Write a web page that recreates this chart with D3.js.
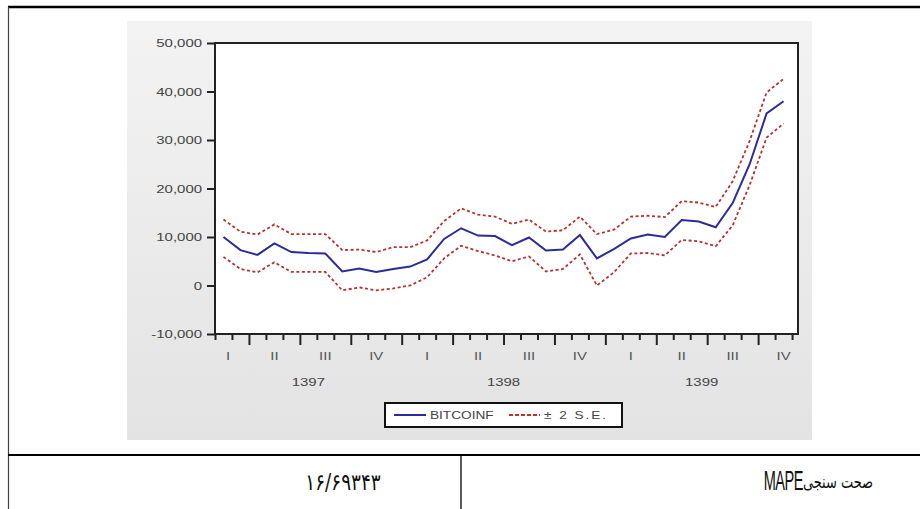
<!DOCTYPE html>
<html>
<head>
<meta charset="utf-8">
<script src="https://cdn.jsdelivr.net/npm/d3@7"></script>
<style>
body { margin: 0; background: #fff; }
svg { display: block; }
</style>
</head>
<body>
<svg width="920" height="509"></svg>
<script>
// forecast of BITCOINF, monthly from Ordibehesht 1397 to Dey 1399
var forecast = [10000, 7300, 6300, 8700, 6900, 6700, 6600, 2900, 3500, 2800, 3400, 3900,
    5400, 9600, 11800, 10300, 10200, 8300, 9900, 7200, 7400, 10400, 5600, 7500,
    9700, 10500, 10000, 13500, 13200, 12000, 17000, 25000, 35500, 38000];
var upper = [13600, 11100, 10500, 12600, 10600, 10600, 10600, 7300, 7400, 6900, 7900, 7900,
    9300, 13300, 15900, 14600, 14200, 12700, 13600, 11100, 11400, 14200, 10600, 11500,
    14200, 14400, 14100, 17400, 17100, 16200, 21500, 29800, 39800, 42600];
var lower = [5900, 3400, 2700, 4800, 2800, 2800, 2800, -1000, -400, -1000, -600, 0,
    1700, 5600, 8200, 7100, 6200, 5000, 6000, 2900, 3400, 6400, 0, 2700,
    6600, 6700, 6200, 9400, 9100, 8100, 12400, 20700, 30500, 33400];
var quarterLabels = ["I", "II", "III", "IV"];
var years = ["1397", "1398", "1399"];
var yTicks = [-10000, 0, 10000, 20000, 30000, 40000, 50000];
var firstMonth = 1; // month index of first observation (0 = Farvardin 1397)

var svg = d3.select("svg");

// page table lines
svg.append("line").attr("x1", 8).attr("x2", 920).attr("y1", 7).attr("y2", 7)
    .attr("stroke", "#000").attr("stroke-width", 2.5);
svg.append("line").attr("x1", 8.5).attr("x2", 8.5).attr("y1", 7).attr("y2", 509)
    .attr("stroke", "#444").attr("stroke-width", 1.2);
svg.append("line").attr("x1", 8).attr("x2", 920).attr("y1", 455).attr("y2", 455)
    .attr("stroke", "#000").attr("stroke-width", 2);
svg.append("line").attr("x1", 461).attr("x2", 461).attr("y1", 455).attr("y2", 509)
    .attr("stroke", "#000").attr("stroke-width", 1.3);

// gray panel
var grad = svg.append("defs").append("linearGradient")
    .attr("id", "panel").attr("x1", 0).attr("x2", 0).attr("y1", 0).attr("y2", 1);
grad.append("stop").attr("offset", "0%").attr("stop-color", "#f3f3f3");
grad.append("stop").attr("offset", "100%").attr("stop-color", "#e3e3e3");
svg.append("rect").attr("x", 127).attr("y", 21).attr("width", 685).attr("height", 419)
    .attr("fill", "url(#panel)");

var x = d3.scaleLinear().domain([1, 35.35]).range([215, 798]),
    y = d3.scaleLinear().domain([-10000, 50000]).range([334, 43]);

var g = svg.append("g");

g.append("rect").attr("x", 215).attr("y", 43).attr("width", 583).attr("height", 291)
    .attr("fill", "#fff");

var line = d3.line()
    .x(function(d, i) { return x(firstMonth + i + 0.5); })
    .y(function(d) { return y(d); });

g.append("path").datum(upper)
    .attr("fill", "none").attr("stroke", "#b8312f").attr("stroke-width", 1.8)
    .attr("stroke-dasharray", "3,2.5").attr("d", line);
g.append("path").datum(lower)
    .attr("fill", "none").attr("stroke", "#b8312f").attr("stroke-width", 1.8)
    .attr("stroke-dasharray", "3,2.5").attr("d", line);
g.append("path").datum(forecast)
    .attr("fill", "none").attr("stroke", "#2b2b9c").attr("stroke-width", 2)
    .attr("d", line);

// y axis
var yAxis = g.append("g")
    .attr("transform", "translate(215,0)")
    .call(d3.axisLeft(y).tickValues(yTicks).tickSize(8).tickSizeOuter(0)
        .tickFormat(function(d) { return d3.format(",")(d).replace("\u2212", "-"); }));
yAxis.select(".domain").remove();
yAxis.selectAll("line").attr("stroke", "#222").attr("stroke-width", 2);
yAxis.selectAll("text")
    .attr("x", -10)
    .attr("transform", "scale(1.3,1)")
    .style("font", "11.5px 'Liberation Sans', Arial, sans-serif")
    .attr("fill", "#444");

// x axis, month ticks, longer at quarter ends
var monthTicks = d3.range(1, 36);
var xMinor = g.append("g")
    .attr("transform", "translate(0,334)")
    .call(d3.axisBottom(x).tickValues(monthTicks.filter(function(m) { return m % 3 != 0; }))
        .tickSize(6).tickFormat(""));
var xMajor = g.append("g")
    .attr("transform", "translate(0,334)")
    .call(d3.axisBottom(x).tickValues(monthTicks.filter(function(m) { return m % 3 == 0; }))
        .tickSize(11).tickFormat(""));
xMinor.select(".domain").remove();
xMajor.select(".domain").remove();
g.selectAll(".tick line").attr("stroke", "#222").attr("stroke-width", 2);

var quarters = d3.range(12).map(function(q) {
    return {label: quarterLabels[q % 4], pos: q * 3 + 1.5};
});
g.selectAll(".qlabel")
    .data(quarters)
  .enter().append("text")
    .attr("class", "qlabel")
    .attr("transform", function(d) {
        return "translate(" + Math.max(x(d.pos), 228) + ",360) scale(1.3,1)";
    })
    .attr("text-anchor", "middle")
    .style("font", "11.5px 'Liberation Sans', Arial, sans-serif")
    .attr("fill", "#555")
    .text(function(d) { return d.label; });

var dom = x.domain();
g.selectAll(".ylabel")
    .data(years)
  .enter().append("text")
    .attr("class", "ylabel")
    .attr("transform", function(d, i) {
        var a = Math.max(i * 12, dom[0]), b = Math.min(i * 12 + 12, dom[1]);
        return "translate(" + x((a + b) / 2) + ",386) scale(1.3,1)";
    })
    .attr("text-anchor", "middle")
    .style("font", "11.5px 'Liberation Sans', Arial, sans-serif")
    .attr("fill", "#444")
    .text(function(d) { return d; });

// frame
g.append("rect").attr("x", 215).attr("y", 43).attr("width", 583).attr("height", 291)
    .attr("fill", "none").attr("stroke", "#222").attr("stroke-width", 2);

// legend
var legend = svg.append("g").attr("transform", "translate(385,403)");
legend.append("rect").attr("width", 237).attr("height", 24)
    .attr("fill", "#fff").attr("stroke", "#111").attr("stroke-width", 2);
legend.append("line").attr("x1", 9).attr("x2", 41).attr("y1", 12).attr("y2", 12)
    .attr("stroke", "#2b2b9c").attr("stroke-width", 2);
legend.append("text").attr("transform", "translate(45,16) scale(1.3,1)")
    .style("font", "10.5px 'Liberation Sans', Arial, sans-serif").attr("fill", "#444")
    .text("BITCOINF");
legend.append("line").attr("x1", 124).attr("x2", 155).attr("y1", 12).attr("y2", 12)
    .attr("stroke", "#c0302c").attr("stroke-width", 1.8).attr("stroke-dasharray", "4,2");
legend.append("text").attr("transform", "translate(159,16) scale(1.3,1)")
    .style("font", "10.5px 'Liberation Sans', Arial, sans-serif").attr("fill", "#444")
    .attr("letter-spacing", 1.5)
    .text("\u00b1 2 S.E.");

// table row
svg.append("text").attr("transform", "translate(343,490) scale(0.8,1)")
    .attr("text-anchor", "middle")
    .style("font", "23px 'DejaVu Sans', sans-serif").attr("fill", "#111")
    .text("\u06f1\u06f6/\u06f6\u06f9\u06f3\u06f4\u06f3");

var fa = svg.append("text").attr("transform", "translate(873,488) scale(0.72,1)")
    .attr("text-anchor", "end")
    .style("font", "18px 'DejaVu Sans', sans-serif").attr("fill", "#111")
    .text("صحت سنجی");
var faWidth = fa.node().getComputedTextLength() * 0.72;
svg.append("text").attr("transform", "translate(" + (873 - faWidth) + ",490) scale(0.52,1)")
    .attr("text-anchor", "end").attr("letter-spacing", -1)
    .style("font", "28px 'Liberation Sans', Arial, sans-serif").attr("fill", "#111")
    .text("MAPE");
</script>
</body>
</html>
